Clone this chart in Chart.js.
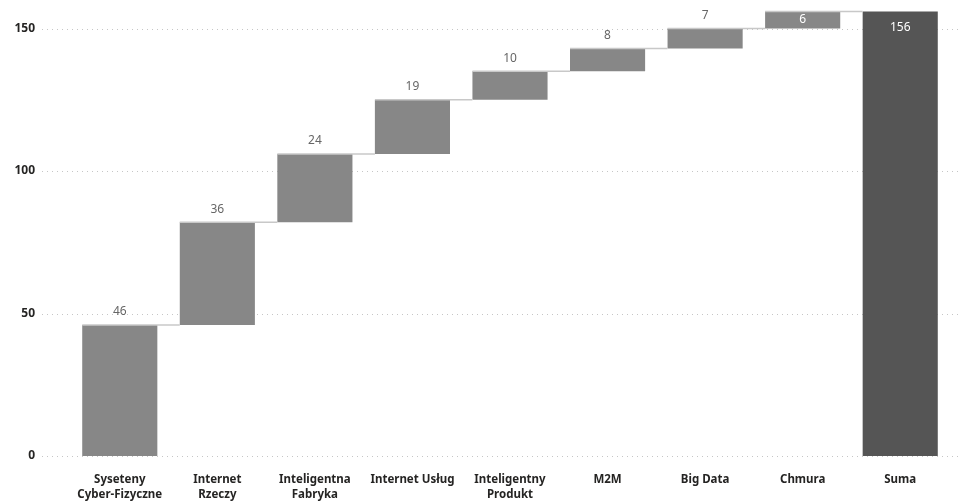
<!DOCTYPE html>
<html>
<head>
<meta charset="utf-8">
<script src="https://cdn.jsdelivr.net/npm/chart.js@4/dist/chart.umd.min.js"></script>
<style>
  html, body { margin: 0; padding: 0; background: #fff; }
  #wrap { width: 961px; height: 502px; position: relative; }
</style>
</head>
<body>
<div id="wrap"><canvas id="c"></canvas></div>
<script>
// Waterfall: contribution of each Industry 4.0 area, ending in the total
const categories = [
  ['Syseteny', 'Cyber-Fizyczne'],
  ['Internet', 'Rzeczy'],
  ['Inteligentna', 'Fabryka'],
  'Internet Usług',
  ['Inteligentny', 'Produkt'],
  'M2M',
  'Big Data',
  'Chmura',
  'Suma'
];
const increments = [46, 36, 24, 19, 10, 8, 7, 6];
const totalLabel = 'Suma';
const yTicks = [0, 50, 100, 150];

// Build floating [start, end] ranges from the running sum
const ranges = [];
let running = 0;
for (const v of increments) {
  ranges.push([running, running + v]);
  running += v;
}
ranges.push([0, running]);
const shownValues = increments.concat([running]);

const incColor = '#878787';
const totalColor = '#555555';
const FONT = '"Noto Sans", "Open Sans", sans-serif';

const gridPlugin = {
  id: 'dottedGrid',
  beforeDatasetsDraw(chart) {
    const { ctx } = chart;
    const y = chart.scales.y;
    ctx.save();
    ctx.strokeStyle = '#c6c6c6';
    ctx.lineWidth = 1;
    ctx.setLineDash([1, 4]);
    for (const t of yTicks) {
      const py = Math.round(y.getPixelForValue(t)) + 0.5;
      ctx.beginPath();
      ctx.moveTo(42, py);
      ctx.lineTo(chart.width, py);
      ctx.stroke();
    }
    ctx.restore();
  }
};

const connectorPlugin = {
  id: 'connectors',
  afterDatasetsDraw(chart) {
    const { ctx } = chart;
    const meta = chart.getDatasetMeta(0);
    const y = chart.scales.y;
    ctx.save();
    ctx.strokeStyle = '#c8c8c8';
    ctx.lineWidth = 1.5;
    for (let i = 0; i < meta.data.length - 1; i++) {
      const bar = meta.data[i];
      const next = meta.data[i + 1];
      const py = y.getPixelForValue(ranges[i][1]);
      ctx.beginPath();
      ctx.moveTo(bar.x - bar.width / 2, py);
      ctx.lineTo(next.x - next.width / 2, py);
      ctx.stroke();
    }
    ctx.restore();
  }
};

const labelPlugin = {
  id: 'valueLabels',
  afterDatasetsDraw(chart) {
    const { ctx } = chart;
    const meta = chart.getDatasetMeta(0);
    const y = chart.scales.y;
    ctx.save();
    ctx.font = '12px ' + FONT;
    ctx.textAlign = 'center';
    ctx.textBaseline = 'middle';
    meta.data.forEach((bar, i) => {
      const top = y.getPixelForValue(ranges[i][1]);
      const bottom = y.getPixelForValue(ranges[i][0]);
      let ty, color;
      if (i === meta.data.length - 1) {
        ty = top + 16; color = '#ffffff';
      } else if (top - 20 < chart.chartArea.top) {
        ty = (top + bottom) / 2; color = '#ffffff';
      } else {
        ty = top - 13; color = '#666666';
      }
      ctx.fillStyle = color;
      ctx.fillText(String(shownValues[i]), bar.x, ty);
    });
    ctx.restore();
  }
};

new Chart(document.getElementById('c'), {
  type: 'bar',
  data: {
    labels: categories,
    datasets: [{
      data: ranges,
      backgroundColor: categories.map(c => c === totalLabel ? totalColor : incColor),
      borderWidth: 0,
      borderSkipped: false,
      categoryPercentage: 1,
      barPercentage: 0.77
    }]
  },
  options: {
    responsive: true,
    maintainAspectRatio: false,
    animation: false,
    layout: { padding: { top: 0, right: 12, left: 0, bottom: 0 } },
    plugins: { legend: { display: false }, tooltip: { enabled: false } },
    scales: {
      x: {
        grid: { display: false, drawTicks: false },
        border: { display: false },
        ticks: {
          color: '#252423',
          font: { family: FONT, size: 11.5, weight: 'bold', lineHeight: 1.3 },
          padding: 16,
          maxRotation: 0,
          autoSkip: false
        },
        afterFit(s) {
          s.height = 46;
          s.paddingLeft = 0;
          s.paddingRight = 0;
        }
      },
      y: {
        min: 0,
        max: 160,
        grid: { display: false, drawTicks: false },
        border: { display: false },
        afterBuildTicks(s) { s.ticks = yTicks.map(v => ({ value: v })); },
        ticks: {
          color: '#252423',
          font: { family: FONT, size: 12, weight: 'bold' },
          padding: 36
        },
        afterFit(s) {
          s.width = 71;
          s.paddingTop = 0;
          s.paddingBottom = 0;
        }
      }
    }
  },
  plugins: [gridPlugin, connectorPlugin, labelPlugin]
});
</script>
</body>
</html>
